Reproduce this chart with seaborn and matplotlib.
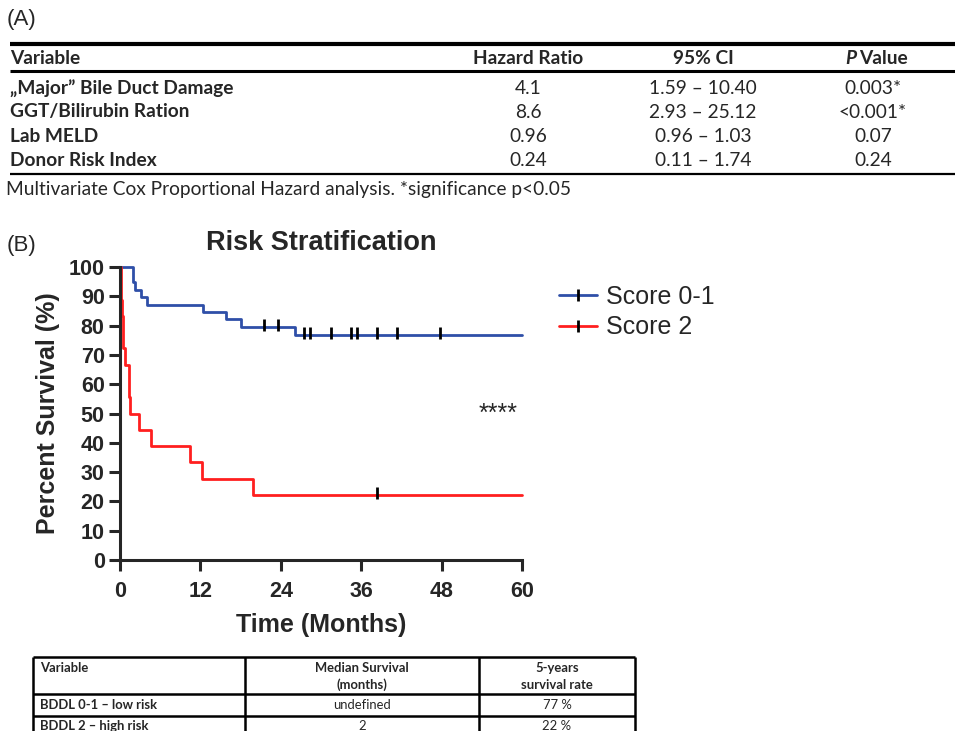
import matplotlib.pyplot as plt
import numpy as np
import pandas as pd
import seaborn as sns
from matplotlib.lines import Line2D

# (A) multivariate Cox table
cox_variables = ['„Major” Bile Duct Damage', 'GGT/Bilirubin Ration', 'Lab MELD', 'Donor Risk Index']
cox_hr = ['4.1', '8.6', '0.96', '0.24']
cox_ci = ['1.59 – 10.40', '2.93 – 25.12', '0.96 – 1.03', '0.11 – 1.74']
cox_p = ['0.003*', '<0.001*', '0.07', '0.24']

# (B) Kaplan-Meier curves (months, % survival)
low_time = [0, 1.9, 2.2, 3.1, 4.1, 12.4, 15.8, 18.0, 26.1]
low_surv = [100, 94.9, 92.3, 89.7, 87.2, 84.6, 82.1, 79.5, 76.8]
low_censor = [21.5, 23.6, 27.5, 28.4, 31.5, 34.5, 35.3, 38.4, 41.4, 47.7]

high_time = [0, 0.1, 0.2, 0.3, 0.4, 0.5, 0.7, 1.3, 1.4, 1.5, 2.8, 4.6, 10.4, 12.2, 19.9]
high_surv = [100, 94.4, 88.9, 83.3, 77.8, 72.2, 66.7, 61.1, 55.6, 50.0, 44.4, 38.9, 33.3, 27.8, 22.2]
high_censor = [38.4]

groups = ['Score 0-1', 'Score 2']
colors = {'Score 0-1': '#2f4fa8', 'Score 2': '#ff1f1f'}
max_time = 60

# bottom summary table
risk_groups = ['BDDL 0-1 – low risk', 'BDDL 2 – high risk']
median_survival = ['undefined', '2']
five_year_rate = ['77 %', '22 %']

W, H = 955, 731
sns.set_style('ticks')
plt.rcParams['font.family'] = ['Liberation Sans', 'DejaVu Sans']
TABLE_FONT = ['Lato', 'DejaVu Sans']

fig = plt.figure(figsize=(W / 100, H / 100), dpi=100)

# overlay in pixel coordinates for the tables and panel letters
bg = fig.add_axes([0, 0, 1, 1])
bg.set_xlim(0, W)
bg.set_ylim(H, 0)
bg.axis('off')
bg.patch.set_alpha(0)

bg.text(7, 19, '(A)', fontsize=16, va='center', ha='left')
bg.text(7, 245, '(B)', fontsize=16, va='center', ha='left')

# table A
bg.hlines(44, 10, W, color='black', lw=3.0)
bg.hlines(71, 10, W, color='black', lw=2.2)
bg.hlines(174, 10, W, color='black', lw=1.6)
col_x = [528, 703, 873]
fs = 13.8
hdr_kw = dict(fontsize=fs, fontweight='bold', va='center', family=TABLE_FONT)
bg.text(10, 59, 'Variable', ha='left', **hdr_kw)
bg.text(col_x[0], 59, 'Hazard Ratio', ha='center', **hdr_kw)
bg.text(col_x[1], 59, '95% CI', ha='center', **hdr_kw)
bg.text(856, 59, 'P', ha='right', fontstyle='italic', **hdr_kw)
bg.text(859, 59, 'Value', ha='left', **hdr_kw)
row_y = [88, 112, 137, 161]
for y, var, hr, ci, p in zip(row_y, cox_variables, cox_hr, cox_ci, cox_p):
    bg.text(10, y, var, ha='left', fontsize=fs, fontweight='bold', va='center', family=TABLE_FONT)
    for x, val in zip(col_x, [hr, ci, p]):
        bg.text(x, y, val, ha='center', fontsize=fs, va='center', family=TABLE_FONT)
bg.text(6, 189, 'Multivariate Cox Proportional Hazard analysis. *significance p<0.05',
        ha='left', va='center', fontsize=fs, family=TABLE_FONT)

# bottom table
tl, tr, c1, c2 = 33, 635, 245, 479
for y in [657, 694, 716, 738]:
    bg.hlines(y, tl, tr, color='black', lw=1.8, clip_on=False)
for x in [tl, c1, c2, tr]:
    bg.vlines(x, 657, 738, color='black', lw=1.8, clip_on=False)
small = dict(fontsize=9.4, va='center', family=TABLE_FONT)
bg.text(40, 668, 'Variable', ha='left', fontweight='bold', **small)
bg.text((c1 + c2) / 2, 668, 'Median Survival', ha='center', fontweight='bold', **small)
bg.text((c1 + c2) / 2, 685, '(months)', ha='center', fontweight='bold', **small)
bg.text((c2 + tr) / 2, 668, '5-years', ha='center', fontweight='bold', **small)
bg.text((c2 + tr) / 2, 685, 'survival rate', ha='center', fontweight='bold', **small)
for y, g, m, r in zip([705, 726], risk_groups, median_survival, five_year_rate):
    bg.text(40, y, g, ha='left', fontweight='bold', **small)
    bg.text((c1 + c2) / 2, y, m, ha='center', **small)
    bg.text((c2 + tr) / 2, y, r, ha='center', **small)

# KM plot
ax = fig.add_axes([120 / W, 1 - 560 / H, (522 - 120) / W, (560 - 267) / H])

frames = []
censors = []
for g, t, s, c in [(groups[0], low_time, low_surv, low_censor),
                   (groups[1], high_time, high_surv, high_censor)]:
    frames.append(pd.DataFrame({'time': t + [max_time], 'surv': s + [s[-1]], 'group': g}))
    idx = np.searchsorted(t, c, side='right') - 1
    censors.append(pd.DataFrame({'time': c, 'surv': np.array(s)[idx], 'group': g}))
km = pd.concat(frames, ignore_index=True)
cens = pd.concat(censors, ignore_index=True)

sns.lineplot(data=km, x='time', y='surv', hue='group', palette=colors,
             drawstyle='steps-post', estimator=None, lw=2.0, legend=False, ax=ax)
for line in ax.lines:
    line.set_clip_on(False)
ax.scatter(cens['time'], cens['surv'] + 0.8, marker='|', s=70, color='black', linewidths=2, zorder=5)

ax.set_xlim(0, max_time)
ax.set_ylim(0, 100)
ax.set_xticks(range(0, 61, 12))
ax.set_yticks(range(0, 101, 10))
sns.despine(ax=ax)
for side in ['left', 'bottom']:
    ax.spines[side].set_linewidth(2.2)
ax.tick_params(width=2.2, length=8, labelsize=15.5, pad=3)
ax.tick_params(axis='x', pad=7)
for lbl in ax.get_xticklabels() + ax.get_yticklabels():
    lbl.set_fontweight('bold')
ax.set_xlabel('Time (Months)', fontsize=18, fontweight='bold', labelpad=8)
ax.set_ylabel('Percent Survival (%)', fontsize=18, fontweight='bold', labelpad=6)
ax.set_title('Risk Stratification', fontsize=19.5, fontweight='bold', pad=12)
ax.text(56.5, 50, '****', ha='center', va='center', fontsize=18)

handles = [Line2D([0], [0], color=colors[g], lw=2.0, marker='|', markersize=8,
                  markeredgecolor='black', markeredgewidth=2) for g in groups]
ax.legend(handles, groups, loc='upper left', bbox_to_anchor=(549 / W, 1 - 275 / H),
          bbox_transform=fig.transFigure, frameon=False, fontsize=18,
          handlelength=1.5, handletextpad=0.4, labelspacing=0.25, borderaxespad=0)

fig.savefig('out.png', dpi=100)
